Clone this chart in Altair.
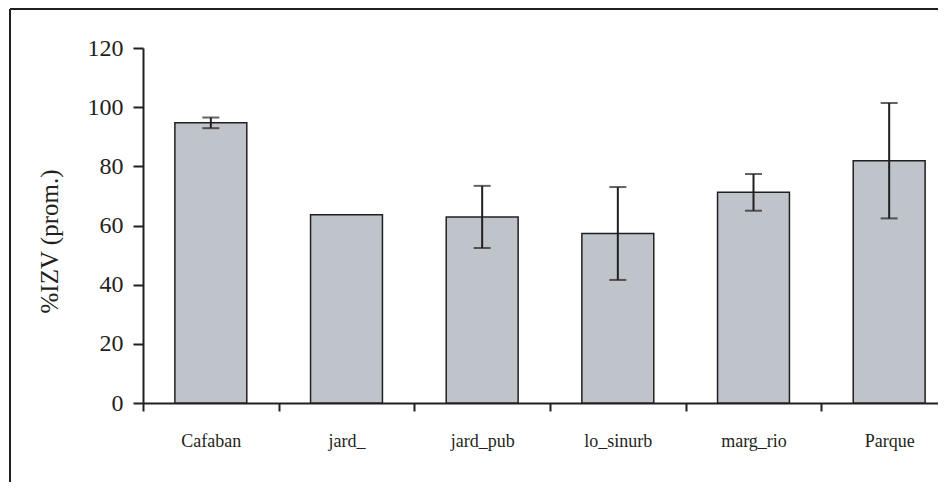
import altair as alt
import pandas as pd

categories = ["Cafaban", "jard_", "jard_pub", "lo_sinurb", "marg_rio", "Parque"]
means = [94.7, 63.6, 62.9, 57.3, 71.2, 81.9]
errors = [1.8, 0.0, 10.5, 15.7, 6.2, 19.5]
y_ticks = [0, 20, 40, 60, 80, 100, 120]

df = pd.DataFrame({"cat": categories, "mean": means, "err": errors})
df["lo"] = df["mean"] - df["err"]
df["hi"] = df["mean"] + df["err"]

SERIF = "Liberation Serif"
INK = "#231f20"

x_enc = alt.X(
    "cat:N",
    sort=categories,
    title=None,
    scale=alt.Scale(range=[0, 814], paddingInner=0, paddingOuter=0),
    axis=alt.Axis(
        tickBand="extent",
        labelAngle=0,
        labelFont=SERIF,
        labelFontSize=18,
        labelColor=INK,
        labelPadding=21,
        tickSize=8,
        tickWidth=2,
        tickColor=INK,
        domainColor=INK,
        domainWidth=2,
        grid=False,
    ),
)

y_scale = alt.Scale(domain=[0, 120], nice=False)

bars = alt.Chart(df).mark_bar(
    width=alt.RelativeBandSize(0.53),
    color="#bfc3ca",
    stroke=INK,
    strokeWidth=1.5,
).encode(
    x=x_enc,
    y=alt.Y(
        "mean:Q",
        scale=y_scale,
        title="%IZV (prom.)",
        axis=alt.Axis(
            values=y_ticks,
            grid=False,
            labelFont=SERIF,
            labelFontSize=24,
            labelColor=INK,
            labelPadding=10,
            tickSize=10,
            tickWidth=2,
            tickColor=INK,
            domainColor=INK,
            domainWidth=2,
            titleFont=SERIF,
            titleFontSize=25,
            titleFontWeight="normal",
            titleColor=INK,
            titleAngle=270,
            titleAlign="center",
            titleBaseline="middle",
            titleX=-94,
            titleY=193,
        ),
    ),
)

err_src = alt.Chart(df).transform_filter("datum.err > 0")

rules = err_src.mark_rule(color=INK, strokeWidth=2).encode(
    x=alt.X("cat:N", sort=categories),
    y=alt.Y("lo:Q", scale=y_scale),
    y2="hi:Q",
)
cap_hi = err_src.mark_tick(color=INK, size=17, thickness=2).encode(
    x=alt.X("cat:N", sort=categories),
    y=alt.Y("hi:Q", scale=y_scale),
)
cap_lo = err_src.mark_tick(color=INK, size=17, thickness=2).encode(
    x=alt.X("cat:N", sort=categories),
    y=alt.Y("lo:Q", scale=y_scale),
)

frame_top = alt.Chart(df).mark_rule(color=INK, strokeWidth=2).encode(
    x=alt.value(-133), x2=alt.value(820), y=alt.value(-39)
)
frame_left = alt.Chart(df).mark_rule(color=INK, strokeWidth=2).encode(
    x=alt.value(-133), y=alt.value(-39), y2=alt.value(440)
)

chart = alt.layer(bars, rules, cap_hi, cap_lo, frame_top, frame_left).properties(
    width=795,
    height=355,
    background="white",
    autosize=alt.AutoSizeParams(type="none"),
    padding={"left": 135, "top": 40, "right": 0, "bottom": 79},
).configure_view(stroke=None).configure_axis(grid=False)

chart.save("out.html", embed_options={"renderer": "svg", "actions": False})
